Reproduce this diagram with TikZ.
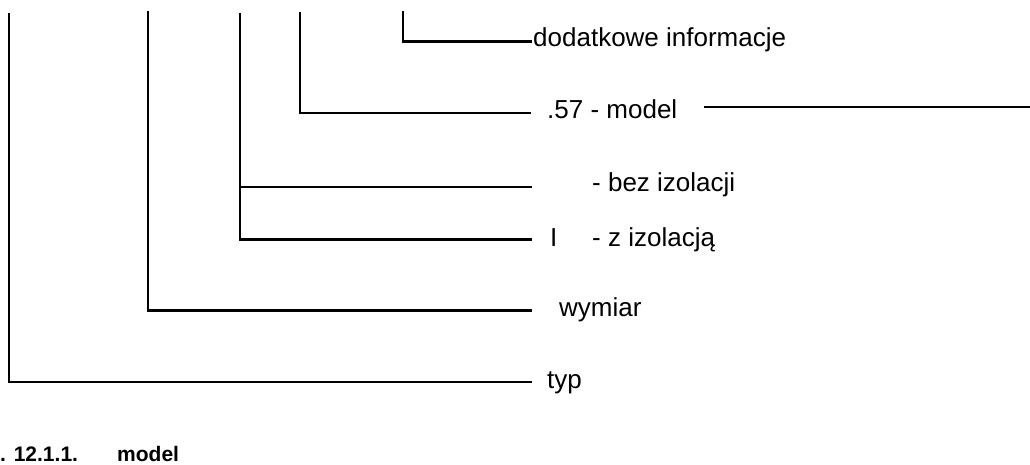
\documentclass[tikz,border=0pt]{standalone}
\usepackage{fontspec}
\setmainfont{Liberation Sans}
\begin{document}
\begin{tikzpicture}[x=1pt,y=-1pt,
  lbl/.style={font=\fontsize{26}{30}\selectfont, inner sep=0pt, anchor=base west},
  capt/.style={font=\fontsize{21}{25}\selectfont\bfseries, inner sep=0pt, anchor=base west},
  ln/.style={line width=2.7pt, line join=miter}]
\useasboundingbox (0,0) rectangle (1030,465);
% labels
\node[lbl] (dod) at (533,47) {dodatkowe informacje};
\node[lbl] (mod) at (547,119) {.57 - model};
\node[lbl] (bez) at (592,192) {- bez izolacji};
\node[lbl] (iso) at (550,246) {I};
\node[lbl] (ziz) at (592,246) {- z izolacją};
\node[lbl] (wym) at (559,316) {wymiar};
\node[lbl] (typ) at (547,388) {typ};
\node[capt] (c1) at (0,461) {. 12.1.1.};
\node[capt] (c2) at (117,461) {model};
% coordinates
\coordinate (t5) at (403,11);  \coordinate (k5) at (403,41.5);  \coordinate (e5) at (532,41.5);
\coordinate (t4) at (300,12);  \coordinate (k4) at (300,113);   \coordinate (e4) at (531,113);
\coordinate (r1) at (704,107); \coordinate (r2) at (1030,107);
\coordinate (t3) at (240,13);  \coordinate (b3) at (240,187);   \coordinate (eb) at (532,187);
\coordinate (k3) at (240,239.5); \coordinate (e3) at (532,239.5);
\coordinate (t2) at (148,11);  \coordinate (k2) at (148,310.5); \coordinate (e2) at (532,310.5);
\coordinate (t1) at (9,13);    \coordinate (k1) at (9,382);     \coordinate (e1) at (532,382);
% connectors
\draw[ln] (t5) -- (k5) -- (e5);
\draw[ln] (t4) -- (k4) -- (e4);
\draw[ln] (r1) -- (r2);
\draw[ln] (t3) -- (k3) -- (e3);
\draw[ln] (b3) -- (eb);
\draw[ln] (t2) -- (k2) -- (e2);
\draw[ln] (t1) -- (k1) -- (e1);
\end{tikzpicture}
\end{document}
